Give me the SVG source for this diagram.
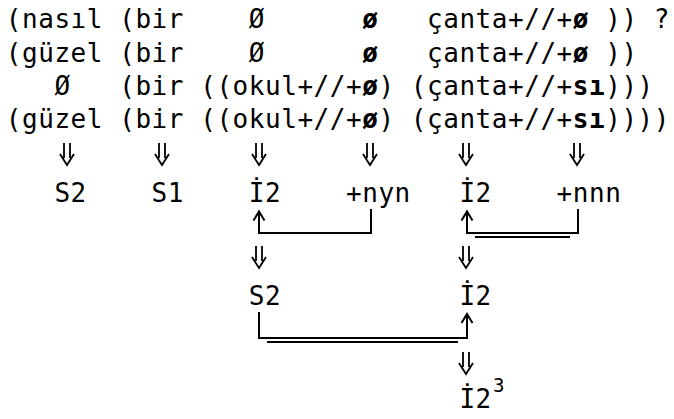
<svg xmlns="http://www.w3.org/2000/svg" width="674" height="419" viewBox="0 0 674 419">
<style>
text{font-family:"DejaVu Sans Mono","Liberation Mono",monospace;font-size:26px;fill:#000;letter-spacing:0.547px}
.b{font-weight:bold}
.ln{fill:none;stroke:#000;stroke-width:2}
.sup{font-size:19px;letter-spacing:0}
</style>
<defs>
<marker id="ah" markerUnits="userSpaceOnUse" markerWidth="12" markerHeight="14" refX="0" refY="0" orient="auto" viewBox="-10 -7 12 14" overflow="visible">
<path d="M-9,-5.5 L0,0 L-9,5.5" fill="none" stroke="#000" stroke-width="2"/>
</marker>
<path id="dd" d="M-3,0 V15 M3,0 V15 M-7,11 L0,22 L7,11" fill="none" stroke="#000" stroke-width="1.8"/>
</defs>
<rect width="674" height="419" fill="#fff"/>
<g id="line1">
<text y="28"><tspan x="5.8">(nasıl (bir</tspan><tspan x="248.8">Ø</tspan><tspan x="362.2" class="b">ø</tspan><tspan x="427">çanta+//+</tspan><tspan x="572.8" class="b">ø</tspan><tspan x="605.2">))</tspan><tspan x="653.8">?</tspan></text>
</g>
<g id="line2">
<text y="61.5"><tspan x="5.8">(güzel (bir</tspan><tspan x="248.8">Ø</tspan><tspan x="362.2" class="b">ø</tspan><tspan x="427">çanta+//+</tspan><tspan x="572.8" class="b">ø</tspan><tspan x="605.2">))</tspan></text>
</g>
<g id="line3">
<text y="95"><tspan x="54.4">Ø</tspan><tspan x="119.2">(bir</tspan><tspan x="200.2">((okul+//+</tspan><tspan x="362.2" class="b">ø</tspan><tspan x="378.4">)</tspan><tspan x="410.8">(çanta+//+</tspan><tspan x="572.8" class="b">sı</tspan><tspan x="605.2">)))</tspan></text>
</g>
<g id="line4">
<text y="128"><tspan x="5.8">(güzel</tspan><tspan x="119.2">(bir</tspan><tspan x="200.2">((okul+//+</tspan><tspan x="362.2" class="b">ø</tspan><tspan x="378.4">)</tspan><tspan x="410.8">(çanta+//+</tspan><tspan x="572.8" class="b">sı</tspan><tspan x="605.2">))))</tspan></text>
</g>
<g id="n-s2a"><text x="54.4" y="202">S2</text></g>
<g id="n-s1"><text x="151.6" y="202">S1</text></g>
<g id="n-i2a"><text x="248.8" y="202">İ2</text></g>
<g id="n-nyn"><text x="346" y="202">+nyn</text></g>
<g id="n-i2b"><text x="459.4" y="202">İ2</text></g>
<g id="n-nnn"><text x="556.6" y="202">+nnn</text></g>
<g id="n-s2b"><text x="248.8" y="305">S2</text></g>
<g id="n-i2c"><text x="459.4" y="305">İ2</text></g>
<g id="n-i2d"><text x="459.4" y="408">İ2<tspan class="sup" x="493" y="392">3</tspan></text></g>
<g id="connectors">
<use href="#dd" x="67" y="143"/>
<use href="#dd" x="162" y="143"/>
<use href="#dd" x="259" y="143"/>
<use href="#dd" x="370" y="143"/>
<use href="#dd" x="466" y="143"/>
<use href="#dd" x="577" y="143"/>
<use href="#dd" x="259" y="246"/>
<use href="#dd" x="466" y="246"/>
<use href="#dd" x="466" y="352"/>
<path class="ln" d="M371,209 V233 H259 V211.5" marker-end="url(#ah)"/>
<path class="ln" d="M578,209 V233 H467 V211.5" marker-end="url(#ah)"/>
<path class="ln" d="M475,237 H570"/>
<path class="ln" d="M259,312 V338 H467 V314" marker-end="url(#ah)"/>
<path class="ln" d="M267,342 H458"/>
</g>
</svg>
